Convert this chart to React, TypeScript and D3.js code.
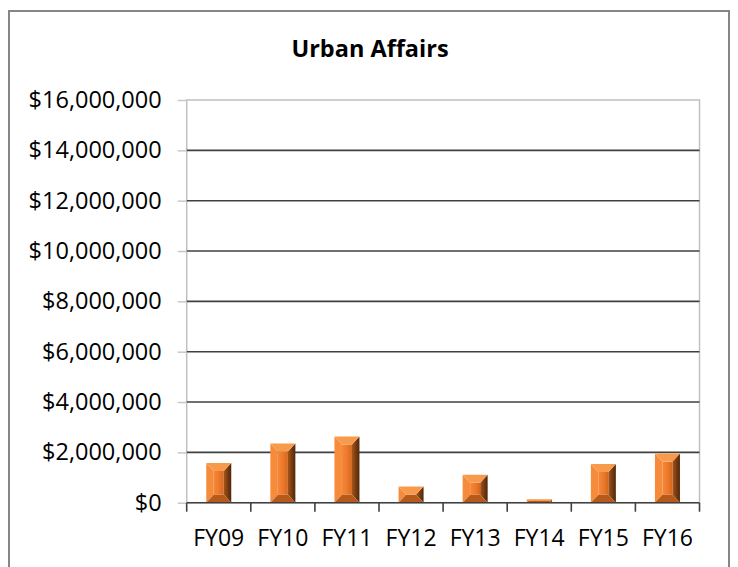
import React, { useEffect, useRef } from 'react'
import * as d3 from 'd3'

// values
const categories = ['FY09', 'FY10', 'FY11', 'FY12', 'FY13', 'FY14', 'FY15', 'FY16']
const amounts = [1580000, 2350000, 2630000, 640000, 1110000, 140000, 1540000, 1950000]
const yTicks = [0, 2000000, 4000000, 6000000, 8000000, 10000000, 12000000, 14000000, 16000000]
const title = 'Urban Affairs'

const W = 738, H = 567
const left = 186.7, right = 699.5, top = 100, bottom = 502.7
const font = '"Open Sans", Lato, sans-serif'

export default function App() {
  const node = useRef<SVGSVGElement>(null)

  useEffect(() => {
    const svg = d3.select(node.current)
    svg.selectAll('*').remove()

    const defs = svg.append('defs')
    const grad = (id: string, stops: string[]) => {
      const lg = defs.append('linearGradient').attr('id', id)
        .attr('x1', 0).attr('x2', 1).attr('y1', 0).attr('y2', 0)
      stops.forEach((c, i) => lg.append('stop')
        .attr('offset', i / (stops.length - 1)).attr('stop-color', c))
    }
    grad('faceGrad', ['#f5873a', '#ee7a2b', '#d2671f'])
    grad('rightGrad', ['#a95517', '#7a3c12', '#4e270c'])

    const x = d3.scaleBand<string>()
      .domain(categories)
      .range([left, right])
      .paddingInner(0.61)
      .paddingOuter(0.305)
    const y = d3.scaleLinear().domain([0, 16000000]).range([bottom, top])

    // outer chart border
    svg.append('rect')
      .attr('x', 9).attr('y', 11)
      .attr('width', 720).attr('height', 570)
      .attr('fill', '#fff')
      .attr('stroke', '#868686')
      .attr('stroke-width', 2)

    svg.append('text')
      .text(title)
      .attr('x', 370).attr('y', 57)
      .attr('text-anchor', 'middle')
      .style('font-family', font)
      .style('font-weight', 'bold')
      .style('font-size', '23.5px')
      .style('fill', '#000')

    // plot area border (light grey)
    svg.append('rect')
      .attr('x', left).attr('y', top)
      .attr('width', right - left).attr('height', bottom - top)
      .attr('fill', 'none')
      .attr('stroke', '#c0c0c0')
      .attr('stroke-width', 1.5)

    // gridlines
    svg.append('g').selectAll('line')
      .data(yTicks.filter(t => t > 0 && t < 16000000))
      .enter().append('line')
      .attr('x1', left).attr('x2', right)
      .attr('y1', d => y(d)).attr('y2', d => y(d))
      .style('stroke', '#404040')
      .style('stroke-width', 1.6)

    // y axis
    const yAxis = d3.axisLeft(y)
      .tickValues(yTicks)
      .tickFormat(d3.format('$,.0f') as any)
      .tickSize(9)
      .tickPadding(16)
    const ya = svg.append('g').attr('transform', `translate(${left},0)`).call(yAxis)
    ya.select('.domain').remove()
    ya.selectAll('line').style('stroke', '#c8c8c8').style('stroke-width', 1.5)
    ya.selectAll('text')
      .style('font-family', font)
      .style('font-size', '23.5px')
      .style('fill', '#000')

    // bars with bevel
    const bw = x.bandwidth()
    const bars = svg.append('g').selectAll('g')
      .data(amounts)
      .enter().append('g')
    bars.each(function (v, i) {
      const g = d3.select(this)
      const x0 = x(categories[i])!
      const x1 = x0 + bw
      const y0 = y(v)
      const y1 = y(0)
      const t = Math.min(8, (y1 - y0) / 2)
      const s = Math.min(bw * 0.3, t * 1.0)
      const poly = (pts: number[][], fill: string) =>
        g.append('polygon').attr('points', pts.map(p => p.join(',')).join(' ')).attr('fill', fill)
      g.append('rect')
        .attr('x', x0 + s).attr('y', y0 + t)
        .attr('width', bw - 2 * s).attr('height', Math.max(0, y1 - y0 - 2 * t))
        .attr('fill', 'url(#faceGrad)')
      poly([[x0, y0], [x0 + s, y0 + t], [x0 + s, y1 - t], [x0, y1]], '#f68c3b')
      poly([[x1, y0], [x1 - s, y0 + t], [x1 - s, y1 - t], [x1, y1]], 'url(#rightGrad)')
      poly([[x0, y0], [x1, y0], [x1 - s, y0 + t], [x0 + s, y0 + t]], '#f89a4c')
      poly([[x0, y1], [x1, y1], [x1 - s, y1 - t], [x0 + s, y1 - t]], '#b65a1b')
    })

    // x axis
    svg.append('line')
      .attr('x1', left).attr('x2', right)
      .attr('y1', bottom).attr('y2', bottom)
      .style('stroke', '#404040').style('stroke-width', 1.6)
    const bounds = categories.map(c => x(c)! - (x.step() - bw) / 2).concat([right])
    svg.append('g').selectAll('line')
      .data(bounds)
      .enter().append('line')
      .attr('x1', d => d).attr('x2', d => d)
      .attr('y1', bottom).attr('y2', bottom + 9)
      .style('stroke', '#404040').style('stroke-width', 1.6)
    svg.append('g').selectAll('text')
      .data(categories)
      .enter().append('text')
      .text(d => d)
      .attr('x', d => x(d)! + bw / 2)
      .attr('y', 546)
      .attr('text-anchor', 'middle')
      .style('font-family', font)
      .style('font-size', '23px')
      .style('fill', '#000')
  }, [])

  return (
    <svg ref={node} width={W} height={H} style={{ position: 'absolute', left: 0, top: 0 }} />
  )
}
